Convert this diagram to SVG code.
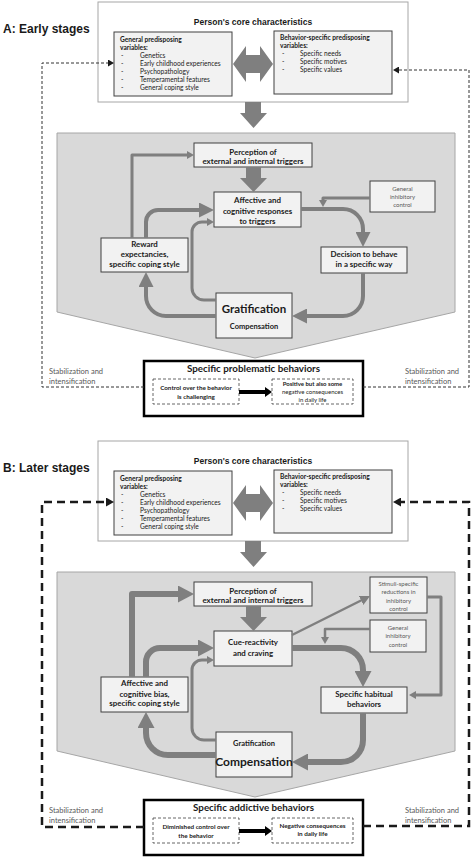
<svg xmlns="http://www.w3.org/2000/svg" width="472" height="857" viewBox="0 0 472 857">
<style>
.outer{fill:#fff;stroke:#a6a6a6;stroke-width:1}
.box{fill:#f2f2f2;stroke:#404040;stroke-width:1}
.shade{fill:#d9d9d9;stroke:#a6a6a6;stroke-width:1}
.res{fill:#fff;stroke:#000;stroke-width:2.5}
.dbox{fill:#fff;stroke:#404040;stroke-width:0.8;stroke-dasharray:3 2}
.blk{fill:#7f7f7f}
.fl{fill:none;stroke:#7f7f7f;stroke-linejoin:round}
.w3{stroke-width:3}
.w4{stroke-width:4}
.w6{stroke-width:6}
.w25{stroke-width:2.5}
.dA{fill:none;stroke:#333;stroke-width:1;stroke-dasharray:3 2}
.dB{fill:none;stroke:#1a1a1a;stroke-width:2.5;stroke-dasharray:8 5}
.ka{fill:none;stroke:#000;stroke-width:4}
.ar{font-family:"Liberation Sans",Arial,sans-serif;font-weight:bold;fill:#1a1a1a}
.hd{font-size:12px}
.core{font-size:8.5px;text-anchor:middle}
.c{font-family:Lato,"Open Sans",sans-serif;fill:#1a1a1a}
.b{font-weight:bold}
.m{text-anchor:middle}
.g{fill:#595959}
.s65{font-size:6.6px}
.s6{font-size:6px}
.s62{font-size:6.3px}
.s8{font-size:7.9px}
.s75{font-size:7.5px}
</style>
<defs>
<marker id="mA" markerUnits="userSpaceOnUse" viewBox="0 0 15 15" markerWidth="15" markerHeight="15" refX="1" refY="7.5" orient="auto"><path d="M0,0 L15,7.5 L0,15 z" fill="#7f7f7f"/></marker>
<marker id="mB" markerUnits="userSpaceOnUse" viewBox="0 0 16 17" markerWidth="16" markerHeight="17" refX="1" refY="8.5" orient="auto"><path d="M0,0 L16,8.5 L0,17 z" fill="#7f7f7f"/></marker>
<marker id="mS" markerUnits="userSpaceOnUse" viewBox="0 0 7 8" markerWidth="7" markerHeight="8" refX="1" refY="4" orient="auto"><path d="M0,0 L7,4 L0,8 z" fill="#7f7f7f"/></marker>
<marker id="mM" markerUnits="userSpaceOnUse" viewBox="0 0 10 10" markerWidth="10" markerHeight="10" refX="1" refY="5" orient="auto"><path d="M0,0 L10,5 L0,10 z" fill="#7f7f7f"/></marker>
<marker id="kA" markerUnits="userSpaceOnUse" viewBox="0 0 6 7" markerWidth="6" markerHeight="7" refX="1" refY="3.5" orient="auto"><path d="M0,0 L6,3.5 L0,7 z" fill="#1a1a1a"/></marker>
<marker id="kB" markerUnits="userSpaceOnUse" viewBox="0 0 8 9" markerWidth="8" markerHeight="9" refX="1" refY="4.5" orient="auto"><path d="M0,0 L8,4.5 L0,9 z" fill="#1a1a1a"/></marker>
<marker id="kR" markerUnits="userSpaceOnUse" viewBox="0 0 7 10" markerWidth="7" markerHeight="10" refX="1" refY="5" orient="auto"><path d="M0,0 L7,5 L0,10 z" fill="#000"/></marker>
</defs>

<!-- ============ A ============ -->
<text class="ar hd" x="3" y="33">A: Early stages</text>

<g id="A-core">
<rect class="outer" x="98" y="2" width="310" height="100"/>
<text class="ar core" x="253" y="25">Person's core characteristics</text>
</g>
<g id="A-general">
<rect class="box" x="114" y="32" width="118" height="64"/>
<text class="c b s65" x="120" y="41.5">General predisposing</text>
<text class="c b s65" x="120" y="49.5">variables:</text>
<g class="c s65"><text x="121" y="57.5">-</text><text x="140" y="57.5">Genetics</text>
<text x="121" y="65.5">-</text><text x="140" y="65.5">Early childhood experiences</text>
<text x="121" y="73.8">-</text><text x="140" y="73.8">Psychopathology</text>
<text x="121" y="82">-</text><text x="140" y="82">Temperamental features</text>
<text x="121" y="90">-</text><text x="140" y="90">General coping style</text></g>
</g>
<g id="A-specific">
<rect class="box" x="274" y="31" width="118" height="63"/>
<text class="c b s65" x="280" y="40">Behavior-specific predisposing</text>
<text class="c b s65" x="280" y="48">variables:</text>
<g class="c s65"><text x="282" y="56.3">-</text><text x="300" y="56.3">Specific needs</text>
<text x="282" y="64.3">-</text><text x="300" y="64.3">Specific motives</text>
<text x="282" y="72.3">-</text><text x="300" y="72.3">Specific values</text></g>
</g>
<g id="A-shade"><polygon class="shade" points="57,133 455,133 455,312 255,358 57,312"/></g>
<g id="A-perception">
<rect class="box" x="194" y="143" width="118" height="24"/>
<text class="c b s8 m" x="253" y="154.5">Perception of</text>
<text class="c b s8 m" x="253" y="164">external and internal triggers</text>
</g>
<g id="A-affective">
<rect class="box" x="214" y="192" width="87" height="35"/>
<text class="c b s8 m" x="257.5" y="202.5">Affective and</text>
<text class="c b s8 m" x="257.5" y="213.5">cognitive responses</text>
<text class="c b s8 m" x="257.5" y="224">to triggers</text>
</g>
<g id="A-inhib">
<rect class="box" x="370" y="181" width="65" height="31"/>
<text class="c g s6 m" x="402.5" y="190.5">General</text>
<text class="c g s6 m" x="402.5" y="199">inhibitory</text>
<text class="c g s6 m" x="402.5" y="207">control</text>
</g>
<g id="A-decision">
<rect class="box" x="321" y="247" width="86" height="26"/>
<text class="c b s8 m" x="364" y="257">Decision to behave</text>
<text class="c b s8 m" x="364" y="267">in a specific way</text>
</g>
<g id="A-gratification">
<rect class="box" x="216" y="293" width="76" height="45"/>
<text class="c b m" x="254" y="313" font-size="11.5">Gratification</text>
<text class="c b s75 m" x="254" y="329">Compensation</text>
</g>
<g id="A-reward">
<rect class="box" x="101" y="238" width="87" height="34"/>
<text class="c b s8 m" x="144.5" y="247">Reward</text>
<text class="c b s8 m" x="144.5" y="257">expectancies,</text>
<text class="c b s8 m" x="144.5" y="267">specific coping style</text>
</g>
<g id="A-result">
<rect class="res" x="144" y="361" width="219" height="55"/>
<text class="c b m" x="253.5" y="371.5" font-size="9.8">Specific problematic behaviors</text>
<rect class="dbox" x="153" y="379" width="86" height="25"/>
<text class="c b s62 m" x="196" y="390">Control over the behavior</text>
<text class="c b s62 m" x="196" y="398.5">is challenging</text>
<rect class="dbox" x="272" y="379" width="81" height="25"/>
<text class="c b s6 m" x="312.5" y="386">Positive but also some</text>
<text class="c s6 m" x="312.5" y="394">negative consequences</text>
<text class="c s6 m" x="312.5" y="402">in daily life</text>
</g>
<g id="A-stab-left"><text class="c g s75" x="49" y="374">Stabilization and</text><text class="c g s75" x="49" y="384">intensification</text></g>
<g id="A-stab-right"><text class="c g s75" x="405" y="374">Stabilization and</text><text class="c g s75" x="405" y="384">intensification</text></g>

<g id="A-connectors">
<polygon class="blk" points="233,64 246,46 246,55 260,55 260,46 273,64 260,82 260,73 246,73 246,82"/>
<polygon class="blk" points="245,102 261,102 261,113 267,113 253.5,128 240,113 245,113"/>
<polygon class="blk" points="246,167 261,167 261,178 267,178 253.5,192 240,178 246,178"/>
<path class="fl w3" d="M132,238 V155 H188" marker-end="url(#mS)"/>
<path class="fl w4" d="M146,238 V222 A12,12 0 0 1 158,210 H200" marker-end="url(#mA)"/>
<path class="fl w3" d="M216,300 H204 A12,12 0 0 1 192,288 V232 A10,10 0 0 1 202,222 H208" marker-end="url(#mS)"/>
<path class="fl w4" d="M301,209 H343 A20,20 0 0 1 363,229 V233" marker-end="url(#mA)"/>
<path class="fl w3" d="M370,198 H323 V201" marker-end="url(#mS)"/>
<path class="fl w4" d="M363,273 V296 A20,20 0 0 1 343,316 H306" marker-end="url(#mA)"/>
<path class="fl w4" d="M216,316 H166 A20,20 0 0 1 146,296 V286" marker-end="url(#mA)"/>
<path class="ka" d="M239,392 H266" marker-end="url(#kR)"/>
<path class="dA" d="M144,387 H42 V63 H109" marker-end="url(#kA)"/>
<path class="dA" d="M363,387 H469 V70 H398" marker-end="url(#kA)"/>
</g>

<!-- ============ B ============ -->
<text class="ar hd" x="3" y="472">B: Later stages</text>

<g id="B-core">
<rect class="outer" x="98" y="441" width="310" height="100"/>
<text class="ar core" x="253" y="464">Person's core characteristics</text>
</g>
<g id="B-general">
<rect class="box" x="114" y="471" width="118" height="64"/>
<text class="c b s65" x="120" y="480.5">General predisposing</text>
<text class="c b s65" x="120" y="488.5">variables:</text>
<g class="c s65"><text x="121" y="496.5">-</text><text x="140" y="496.5">Genetics</text>
<text x="121" y="504.5">-</text><text x="140" y="504.5">Early childhood experiences</text>
<text x="121" y="512.8">-</text><text x="140" y="512.8">Psychopathology</text>
<text x="121" y="521">-</text><text x="140" y="521">Temperamental features</text>
<text x="121" y="529">-</text><text x="140" y="529">General coping style</text></g>
</g>
<g id="B-specific">
<rect class="box" x="274" y="470" width="118" height="63"/>
<text class="c b s65" x="280" y="479">Behavior-specific predisposing</text>
<text class="c b s65" x="280" y="487">variables:</text>
<g class="c s65"><text x="282" y="495.3">-</text><text x="300" y="495.3">Specific needs</text>
<text x="282" y="503.3">-</text><text x="300" y="503.3">Specific motives</text>
<text x="282" y="511.3">-</text><text x="300" y="511.3">Specific values</text></g>
</g>
<g id="B-shade"><polygon class="shade" points="57,572 455,572 455,751 255,797 57,751"/></g>
<g id="B-perception">
<rect class="box" x="194" y="582" width="118" height="24"/>
<text class="c b s8 m" x="253" y="593.5">Perception of</text>
<text class="c b s8 m" x="253" y="603">external and internal triggers</text>
</g>
<g id="B-cue">
<rect class="box" x="214" y="631" width="78" height="35"/>
<text class="c b s8 m" x="253" y="645">Cue-reactivity</text>
<text class="c b s8 m" x="253" y="656">and craving</text>
</g>
<g id="B-stimuli">
<rect class="box" x="370" y="577" width="57" height="36"/>
<text class="c g s6 m" x="398.5" y="585.5">Stimuli-specific</text>
<text class="c g s6 m" x="398.5" y="594">reductions in</text>
<text class="c g s6 m" x="398.5" y="602.5">inhibitory</text>
<text class="c g s6 m" x="398.5" y="610.5">control</text>
</g>
<g id="B-inhib">
<rect class="box" x="370" y="620" width="56" height="32"/>
<text class="c g s6 m" x="398" y="629.5">General</text>
<text class="c g s6 m" x="398" y="638">inhibitory</text>
<text class="c g s6 m" x="398" y="646.5">control</text>
</g>
<g id="B-habitual">
<rect class="box" x="321" y="687" width="86" height="26"/>
<text class="c b s8 m" x="364" y="697">Specific habitual</text>
<text class="c b s8 m" x="364" y="707">behaviors</text>
</g>
<g id="B-compensation">
<rect class="box" x="216" y="732" width="76" height="45"/>
<text class="c b s75 m" x="254" y="746">Gratification</text>
<text class="c b m" x="254" y="766" font-size="12">Compensation</text>
</g>
<g id="B-affective">
<rect class="box" x="101" y="677" width="87" height="35"/>
<text class="c b s8 m" x="144.5" y="686">Affective and</text>
<text class="c b s8 m" x="144.5" y="696.5">cognitive bias,</text>
<text class="c b s8 m" x="144.5" y="706">specific coping style</text>
</g>
<g id="B-result">
<rect class="res" x="144" y="800" width="219" height="55"/>
<text class="c b m" x="253.5" y="811" font-size="9.8">Specific addictive behaviors</text>
<rect class="dbox" x="153" y="818" width="86" height="25"/>
<text class="c b s62 m" x="196" y="829">Diminished control over</text>
<text class="c b s62 m" x="196" y="837.5">the behavior</text>
<rect class="dbox" x="272" y="818" width="81" height="25"/>
<text class="c b s62 m" x="312.5" y="827.5">Negative consequences</text>
<text class="c b s62 m" x="312.5" y="836">in daily life</text>
</g>
<g id="B-stab-left"><text class="c g s75" x="49" y="813">Stabilization and</text><text class="c g s75" x="49" y="823">intensification</text></g>
<g id="B-stab-right"><text class="c g s75" x="405" y="813">Stabilization and</text><text class="c g s75" x="405" y="823">intensification</text></g>

<g id="B-connectors">
<polygon class="blk" points="233,503 246,485 246,494 260,494 260,485 273,503 260,521 260,512 246,512 246,521"/>
<polygon class="blk" points="245,541 261,541 261,552 267,552 253.5,567 240,552 245,552"/>
<polygon class="blk" points="246,606 261,606 261,617 267,617 253.5,631 240,617 246,617"/>
<path class="fl w6" d="M132,677 V594 H179" marker-end="url(#mB)"/>
<path class="fl w6" d="M146,677 V662 A14,14 0 0 1 160,648 H199" marker-end="url(#mB)"/>
<path class="fl w3" d="M216,740 H204 A12,12 0 0 1 192,728 V670 A10,10 0 0 1 202,660 H208" marker-end="url(#mS)"/>
<path class="fl w6" d="M292,648 H341 A22,22 0 0 1 363,670 V672" marker-end="url(#mB)"/>
<path class="fl w25" d="M292,635 L362,600" marker-end="url(#mM)"/>
<path class="fl w3" d="M427,597 H441 V695 H415" marker-end="url(#mS)"/>
<path class="fl w25" d="M370,629 H325 V638" marker-end="url(#mS)"/>
<path class="fl w6" d="M363,713 V740 A22,22 0 0 1 341,762 H307" marker-end="url(#mB)"/>
<path class="fl w6" d="M216,755 H168 A22,22 0 0 1 146,733 V727" marker-end="url(#mB)"/>
<path class="ka" d="M239,831 H266" marker-end="url(#kR)"/>
<path class="dB" d="M144,827 H42 V502 H107" marker-end="url(#kB)"/>
<path class="dB" d="M363,826 H469 V502 H400" marker-end="url(#kB)"/>
</g>
</svg>
